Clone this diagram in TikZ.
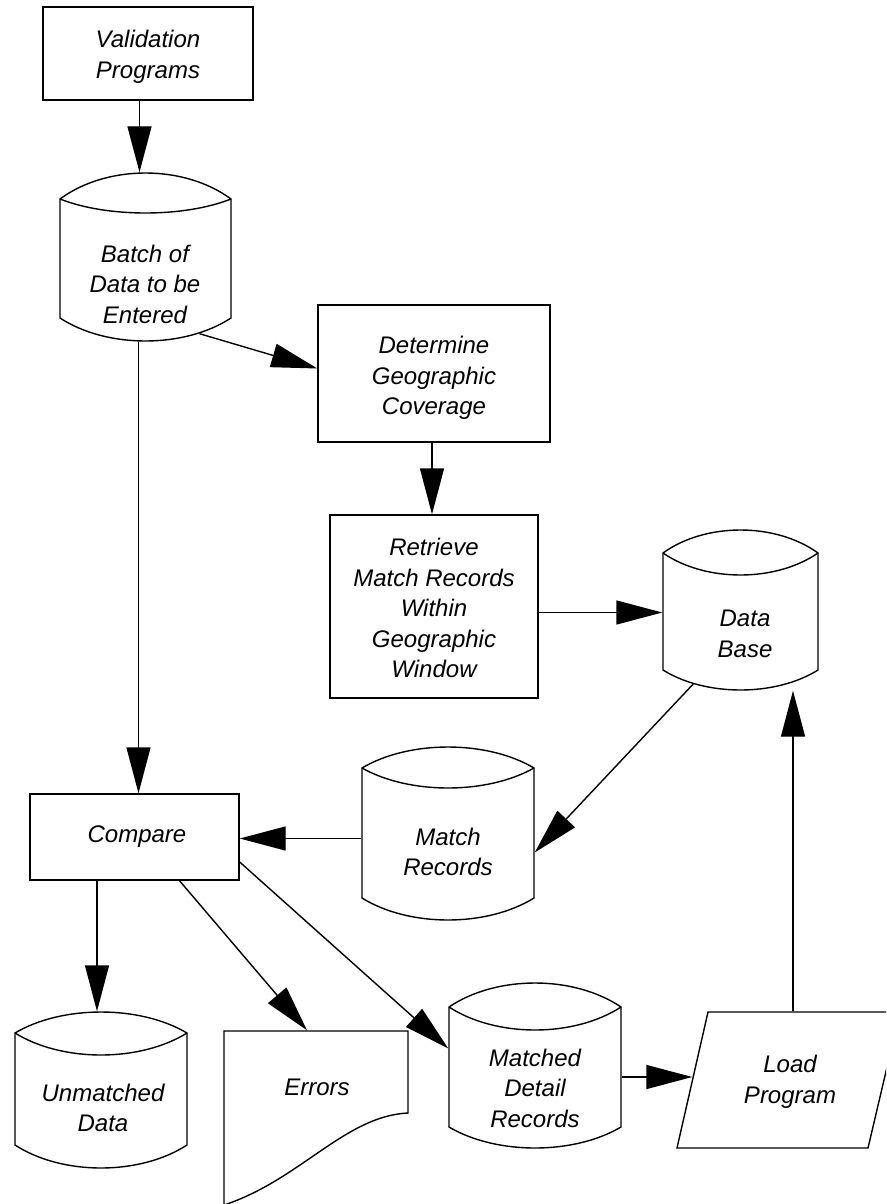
\documentclass[tikz,border=0pt]{standalone}
\usepackage{fontspec}
\setmainfont{Liberation Sans}
\usetikzlibrary{arrows.meta}

% cylinder (stored data): name, centre x, half width, side top y, side bottom y,
% top bulge, inner dip, bottom bulge
\newcommand\drum[8]{%
  \node[box, draw=none, minimum width={2*#3}, minimum height={#5-#4+#6+#8}]
    (#1) at (#2, {(#4-#6+#5+#8)/2}) {};
  \draw[outline]
    ({#2-#3}, #4) .. controls ({#2-0.45*#3}, {#4-#6/0.75}) and ({#2+0.45*#3}, {#4-#6/0.75}) .. ({#2+#3}, #4)
    -- ({#2+#3}, #5)
    .. controls ({#2+0.45*#3}, {#5+#8/0.75}) and ({#2-0.45*#3}, {#5+#8/0.75}) .. ({#2-#3}, #5)
    -- cycle;
  \draw[outline]
    ({#2-#3}, #4) .. controls ({#2-0.45*#3}, {#4+#7/0.75}) and ({#2+0.45*#3}, {#4+#7/0.75}) .. ({#2+#3}, #4);
}

\begin{document}
\begin{tikzpicture}[x=1pt, y=-1pt,
  outline/.style={line width=1.4pt, line join=miter},
  box/.style={rectangle, outline, draw, inner sep=0pt},
  txt/.style={font=\fontsize{24}{30.5}\selectfont\itshape, align=center, inner sep=0pt},
  flow/.style={line width=1.4pt, -{Triangle[length=46pt, width=24pt]}}]
  \path[use as bounding box] (0,0) rectangle (886,1204);
  \clip (0,0) rectangle (886,1204);

  % process boxes
  \node[box, minimum width=210, minimum height=93] (val) at (148,53.5) {};
  \node[txt] (valt) at (148,57) {Validation\\Programs};

  \node[box, minimum width=232, minimum height=137] (det) at (434,373.5) {};
  \node[txt] (dett) at (434,378) {Determine\\Geographic\\Coverage};

  \node[box, minimum width=208, minimum height=183] (ret) at (434,606.5) {};
  \node[txt] (rett) at (434,608) {Retrieve\\Match Records\\Within\\Geographic\\Window};

  \node[box, minimum width=209, minimum height=86] (cmp) at (134.5,837) {};
  \node[txt] (cmpt) at (137,837) {Compare};

  % stored data
  \drum{batch}{145.5}{85.5}{199}{318}{26}{14}{23}
  \node[txt] (batcht) at (145,284) {Batch of\\Data to be\\Entered};

  \drum{db}{740.5}{77.5}{553}{670}{23}{22}{20}
  \node[txt] (dbt) at (745,634) {Data\\Base};

  \drum{mr}{448}{86}{768}{898}{21}{20}{22}
  \node[txt] (mrt) at (448,852) {Match\\Records};

  \drum{um}{101}{86}{1033}{1145}{21}{22}{23}
  \node[txt] (umt) at (103,1108) {Unmatched\\Data};

  \drum{md}{535}{86}{1007}{1127}{24}{23}{21}
  \node[txt] (mdt) at (535,1088) {Matched\\Detail\\Records};

  % document
  \node[box, draw=none, minimum width=184, minimum height=173] (err) at (316,1117.5) {};
  \draw[outline] (224,1214) -- (224,1031) -- (408,1031) -- (408,1113)
    .. controls (345,1116) and (300,1180) .. (224,1205);
  \node[txt] (errt) at (317,1087) {Errors};

  % manual input / load step
  \node[box, draw=none, minimum width=223, minimum height=136] (load) at (788.5,1080) {};
  \draw[outline] (708,1012) -- (900,1012) -- (868,1148) -- (677,1148) -- cycle;
  \node[txt] (loadt) at (790,1082) {Load\\Program};

  % flow lines
  \draw[flow] ([xshift=-6pt]batch.north |- val.south) -- ([xshift=-6pt]batch.north);
  \draw[flow] ([xshift=54pt, yshift=8pt]batch.south) -- ([yshift=5pt]det.west);
  \draw[flow] ([xshift=-2pt]det.south) -- ([xshift=-2pt]ret.north);
  \draw[flow] ([xshift=-7pt]batch.south) -- ([xshift=-7pt]batch.south |- cmp.north);
  \draw[flow] ([yshift=-6pt]ret.east) -- ([yshift=-6pt]ret.east -| db.west);
  \draw[flow] ([xshift=-47pt, yshift=7pt]db.south) -- ([yshift=-19pt]mr.east);
  \draw[flow] ([yshift=-5pt]mr.west) -- ([yshift=-5pt]mr.west -| cmp.east);
  \draw[flow] ([xshift=-4pt]um.north |- cmp.south) -- ([xshift=-4pt]um.north);
  \draw[flow] ([xshift=45pt]cmp.south) -- ([xshift=-9pt]err.north);
  \draw[flow] ([yshift=-25pt]cmp.east) -- ([yshift=17pt]md.west);
  \draw[flow] ([yshift=-11.5pt]md.east) -- ([xshift=16pt, yshift=3pt]load.west);
  \draw[flow] ([xshift=4.5pt]load.north) -- ([xshift=4.5pt]load.north |- db.south);
\end{tikzpicture}
\end{document}
